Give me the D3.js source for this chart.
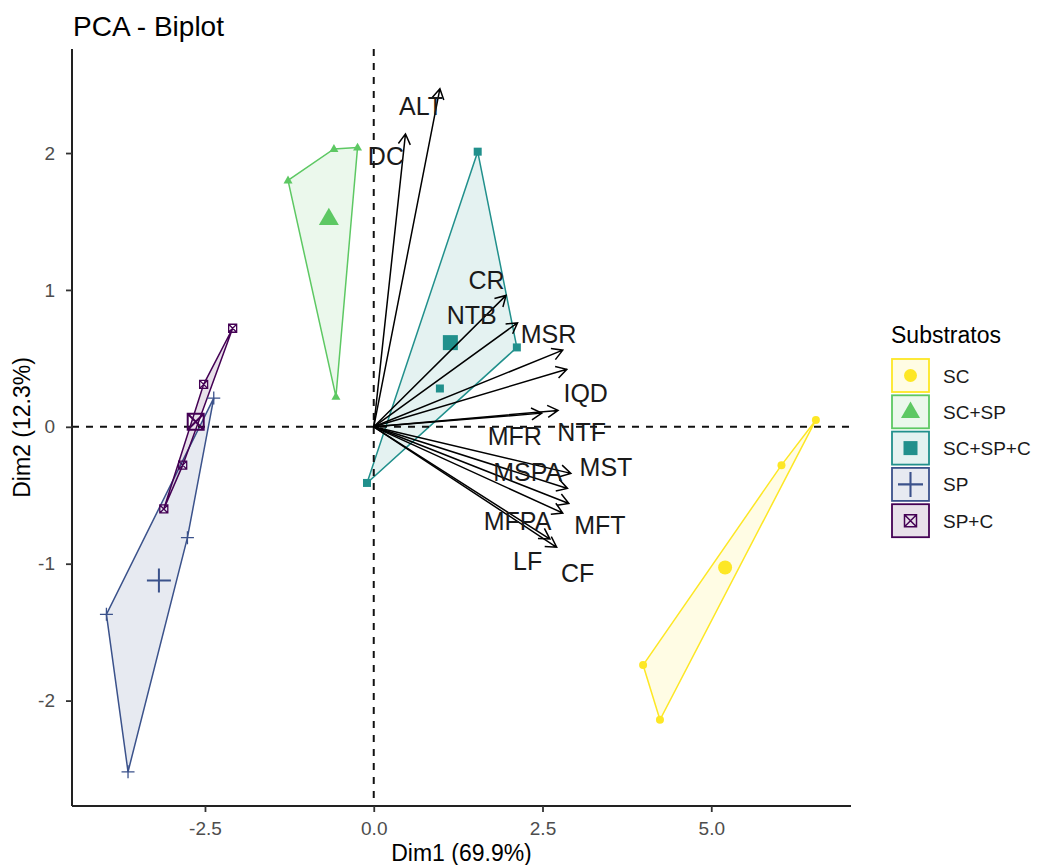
<!DOCTYPE html>
<html>
<head>
<meta charset="utf-8">
<script src="https://cdn.jsdelivr.net/npm/d3@7"></script>
<style>
  html, body { margin: 0; padding: 0; background: #fff; }
  svg { display: block; font-family: "Liberation Sans", Arial, sans-serif; }
</style>
</head>
<body>
<svg id="chart" width="1043" height="865"></svg>
<script>
// ---------------- DATA ----------------
const groups = ["SC", "SC+SP", "SC+SP+C", "SP", "SP+C"];
const groupColors = ["#FDE725", "#5DC863", "#21908C", "#3B528B", "#440154"];
const groupShapes = ["circle", "triangle", "square", "plus", "squareX"];

// individuals (Dim1, Dim2) by group
const indGroup = ["SC","SC","SC","SC",
                  "SC+SP","SC+SP","SC+SP","SC+SP",
                  "SC+SP+C","SC+SP+C","SC+SP+C","SC+SP+C",
                  "SP","SP","SP","SP",
                  "SP+C","SP+C","SP+C","SP+C"];
const indDim1 = [6.55, 6.04, 3.99, 4.24,
                 -1.27, -0.59, -0.24, -0.56,
                 1.54, 2.12, 0.98, -0.10,
                 -3.96, -3.64, -2.76, -2.37,
                 -2.09, -2.52, -2.83, -3.11];
const indDim2 = [0.05, -0.28, -1.74, -2.14,
                 1.80, 2.03, 2.04, 0.22,
                 2.01, 0.58, 0.28, -0.41,
                 -1.37, -2.52, -0.81, 0.21,
                 0.72, 0.31, -0.28, -0.60];

// variables (arrows)
const varNames = ["ALT","DC","CR","NTB","MSR","IQD","NTF","MFR","MST","MSPA","MFPA","MFT","LF","CF"];
const varDim1  = [0.98, 0.47, 1.96, 2.13, 2.80, 2.86, 2.73, 2.49, 2.92, 2.87, 2.89, 2.80, 2.61, 2.71];
const varDim2  = [2.47, 2.14, 0.96, 0.76, 0.56, 0.42, 0.12, 0.10, -0.34, -0.45, -0.56, -0.63, -0.82, -0.88];
// repelled label anchors (in Dim units)
const labelDim1 = [0.70, 0.18, 1.67, 1.45, 2.59, 3.14, 3.08, 2.09, 3.44, 2.28, 2.13, 3.35, 2.28, 3.02];
const labelDim2 = [2.34, 1.98, 1.07, 0.82, 0.68, 0.25, -0.04, -0.07, -0.29, -0.33, -0.69, -0.72, -0.98, -1.07];

const xTicks = [-2.5, 0, 2.5, 5];
const yTicks = [-2, -1, 0, 1, 2];
const xDomain = [-4.47, 7.07];
const yDomain = [-2.77, 2.76];

const titleText = "PCA - Biplot";
const xTitle = "Dim1 (69.9%)";
const yTitle = "Dim2 (12.3%)";
const legendTitle = "Substratos";

// ---------------- CHART ----------------
const svg = d3.select("#chart");
const panel = { left: 72, right: 851, top: 49, bottom: 806 };
const x = d3.scaleLinear().domain(xDomain).range([panel.left, panel.right]);
const y = d3.scaleLinear().domain(yDomain).range([panel.bottom, panel.top]);
const color = d3.scaleOrdinal().domain(groups).range(groupColors);
const shapeOf = d3.scaleOrdinal().domain(groups).range(groupShapes);

const ind = indGroup.map((g, i) => ({ g, x: indDim1[i], y: indDim2[i] }));

function drawShape(sel, shape, cx, cy, size, col) {
  const s = size;
  if (shape === "circle") {
    sel.append("circle").attr("cx", cx).attr("cy", cy).attr("r", s / 2).attr("fill", col);
  } else if (shape === "triangle") {
    const h = s * 0.866;
    sel.append("path")
      .attr("d", `M${cx},${cy - h * 0.62}L${cx + s / 2},${cy + h * 0.38}L${cx - s / 2},${cy + h * 0.38}Z`)
      .attr("fill", col);
  } else if (shape === "square") {
    sel.append("rect").attr("x", cx - s / 2).attr("y", cy - s / 2).attr("width", s).attr("height", s).attr("fill", col);
  } else if (shape === "plus") {
    sel.append("path")
      .attr("d", `M${cx - s / 2},${cy}H${cx + s / 2}M${cx},${cy - s / 2}V${cy + s / 2}`)
      .attr("stroke", col).attr("stroke-width", Math.max(1.3, s / 12)).attr("fill", "none");
  } else if (shape === "squareX") {
    const h = s / 2;
    sel.append("path")
      .attr("d", `M${cx - h},${cy - h}H${cx + h}V${cy + h}H${cx - h}Z M${cx - h},${cy - h}L${cx + h},${cy + h}M${cx + h},${cy - h}L${cx - h},${cy + h}`)
      .attr("stroke", col).attr("stroke-width", Math.max(1.3, s / 8)).attr("fill", "none");
  }
}

// Hulls
const hullG = svg.append("g");
groups.forEach(g => {
  const pts = ind.filter(d => d.g === g).map(d => [x(d.x), y(d.y)]);
  const hull = d3.polygonHull(pts);
  hullG.append("path")
    .attr("d", "M" + hull.join("L") + "Z")
    .attr("fill", color(g)).attr("fill-opacity", 0.12)
    .attr("stroke", color(g)).attr("stroke-width", 1.5);
});

// Reference dashed lines
svg.append("line").attr("x1", x(0)).attr("x2", x(0)).attr("y1", panel.top).attr("y2", panel.bottom)
  .attr("stroke", "#111").attr("stroke-width", 2).attr("stroke-dasharray", "7,7");
svg.append("line").attr("x1", panel.left).attr("x2", panel.right).attr("y1", y(0)).attr("y2", y(0))
  .attr("stroke", "#111").attr("stroke-width", 2).attr("stroke-dasharray", "7,7");

// Points
const ptG = svg.append("g");
const smallSize = { circle: 8, triangle: 9, square: 8, plus: 13, squareX: 8 };
const bigSize = { circle: 14, triangle: 20, square: 15, plus: 24, squareX: 16 };
ind.forEach(d => drawShape(ptG, shapeOf(d.g), x(d.x), y(d.y), smallSize[shapeOf(d.g)], color(d.g)));
// Group centroids
groups.forEach(g => {
  const sub = ind.filter(d => d.g === g);
  const mx = d3.mean(sub, d => d.x), my = d3.mean(sub, d => d.y);
  drawShape(ptG, shapeOf(g), x(mx), y(my), bigSize[shapeOf(g)], color(g));
});

// Arrows
const arrG = svg.append("g");
varNames.forEach((n, i) => {
  const x0 = x(0), y0 = y(0), x1 = x(varDim1[i]), y1 = y(varDim2[i]);
  const ang = Math.atan2(y1 - y0, x1 - x0);
  const L = 12, a = Math.PI / 6;
  const p1 = [x1 - L * Math.cos(ang - a), y1 - L * Math.sin(ang - a)];
  const p2 = [x1 - L * Math.cos(ang + a), y1 - L * Math.sin(ang + a)];
  arrG.append("path")
    .attr("d", `M${x0},${y0}L${x1},${y1}M${p1[0]},${p1[1]}L${x1},${y1}L${p2[0]},${p2[1]}`)
    .attr("stroke", "#000").attr("stroke-width", 1.5).attr("fill", "none");
});
// Variable labels
varNames.forEach((n, i) => {
  svg.append("text")
    .attr("x", x(labelDim1[i])).attr("y", y(labelDim2[i]))
    .attr("text-anchor", "middle").attr("dominant-baseline", "central")
    .attr("font-size", 25).attr("fill", "#1a1a1a").text(n);
});

// Axes
const fmtX = d => d3.format(".1f")(d).replace("−", "-");
const fmtY = d => d3.format("d")(d).replace("−", "-");
const xAxis = svg.append("g").attr("transform", `translate(0,${panel.bottom})`)
  .call(d3.axisBottom(x).tickValues(xTicks).tickFormat(fmtX).tickSize(6).tickPadding(10));
const yAxis = svg.append("g").attr("transform", `translate(${panel.left},0)`)
  .call(d3.axisLeft(y).tickValues(yTicks).tickFormat(fmtY).tickSize(6).tickPadding(11));
[xAxis, yAxis].forEach(ax => {
  ax.select(".domain").attr("stroke", "#222").attr("stroke-width", 2);
  ax.selectAll(".tick line").attr("stroke", "#333").attr("stroke-width", 1.8);
  ax.selectAll(".tick text").attr("fill", "#4D4D4D").attr("font-size", 19)
    .attr("font-family", "'Liberation Sans', Arial, sans-serif");
});
xAxis.select(".domain").attr("d", `M${panel.left},0H${panel.right}`);
yAxis.select(".domain").attr("d", `M0,${panel.top}V${panel.bottom}`);

// Titles
svg.append("text").attr("x", 73).attr("y", 36).attr("font-size", 28).attr("fill", "#000").text(titleText);
svg.append("text").attr("x", (panel.left + panel.right) / 2).attr("y", 861)
  .attr("text-anchor", "middle").attr("font-size", 23).attr("fill", "#000").text(xTitle);
svg.append("text").attr("transform", `translate(30,${(panel.top + panel.bottom) / 2}) rotate(-90)`)
  .attr("text-anchor", "middle").attr("font-size", 23).attr("fill", "#000").text(yTitle);

// Legend
const leg = svg.append("g").attr("transform", "translate(891,0)");
leg.append("text").attr("x", 0).attr("y", 343).attr("font-size", 23).attr("fill", "#000").text(legendTitle);
const legSym = { circle: 13, triangle: 19, square: 14, plus: 25, squareX: 12 };
groups.forEach((g, i) => {
  const cy = 376 + i * 36.3;
  leg.append("rect").attr("x", 1).attr("y", cy - 17).attr("width", 37).attr("height", 33)
    .attr("fill", color(g)).attr("fill-opacity", 0.12)
    .attr("stroke", color(g)).attr("stroke-width", 1.8);
  drawShape(leg, shapeOf(g), 19.5, cy - 0.5, legSym[shapeOf(g)], color(g));
  leg.append("text").attr("x", 52).attr("y", cy).attr("dominant-baseline", "central")
    .attr("font-size", 19).attr("fill", "#1a1a1a").text(g);
});
</script>
</body>
</html>
